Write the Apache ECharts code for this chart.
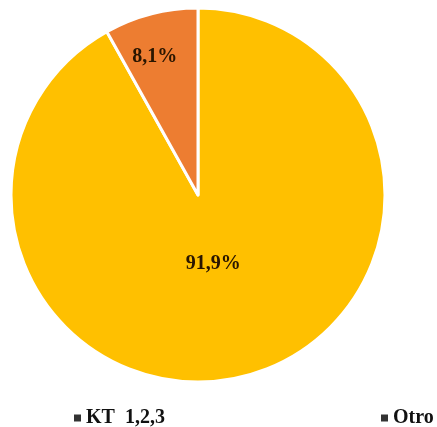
<!DOCTYPE html>
<html><head><meta charset="utf-8">
<script src="https://cdn.jsdelivr.net/npm/echarts@6/dist/echarts.min.js"></script>
<style>html,body{margin:0;padding:0;background:#fff}#c{width:437px;height:427px}</style>
</head><body><div id="c"></div>
<script>
const categories = ['KT  1,2,3', 'Otro'];
const values = [91.9, 8.1];
const colors = ['#FFC000', '#ED7D31'];
const labelShift = [[-9, -25], [-19, -45]];

const chart = echarts.init(document.getElementById('c'), null, {renderer: 'canvas'});
const font = '"Liberation Serif", "Times New Roman", serif';
const legendText = {fontFamily: font, fontWeight: 'bold', fontSize: 20, color: '#111'};
chart.setOption({
  animation: false,
  legend: [
    {data: [categories[0]], left: 69, top: 403, itemWidth: 7, itemHeight: 7,
     icon: 'rect', textStyle: legendText, itemStyle: {color: '#333', borderWidth: 0}},
    {data: [categories[1]], left: 376, top: 403, itemWidth: 7, itemHeight: 7,
     icon: 'rect', textStyle: legendText, itemStyle: {color: '#333', borderWidth: 0}}
  ],
  series: [{
    type: 'pie',
    center: [198, 195],
    radius: [0, 187],
    startAngle: 90,
    clockwise: true,
    itemStyle: {borderColor: '#fff', borderWidth: 3},
    label: {
      position: 'inside',
      formatter: p => p.value.toFixed(1).replace('.', ',') + '%',
      fontFamily: font, fontWeight: 'bold', fontSize: 20, color: '#2a1600'
    },
    labelLayout: p => ({dx: labelShift[p.dataIndex][0], dy: labelShift[p.dataIndex][1]}),
    data: categories.map((c, i) => ({name: c, value: values[i], itemStyle: {color: colors[i]}}))
  }]
});
</script></body></html>
